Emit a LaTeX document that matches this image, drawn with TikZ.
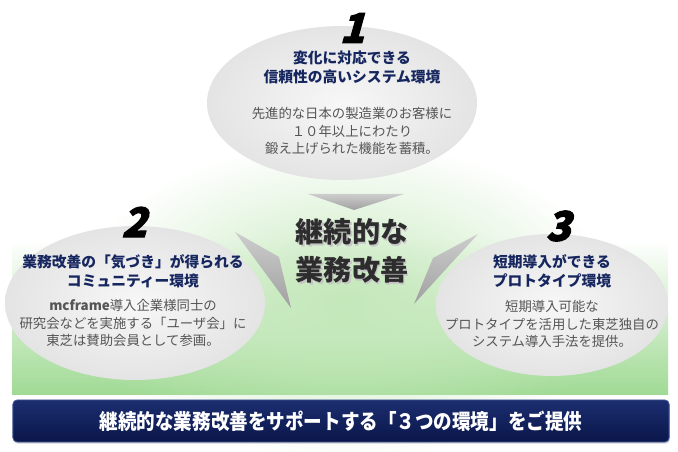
\documentclass[tikz,border=0pt]{standalone}
\usepackage{fontspec}
\setmainfont{Noto Sans CJK JP}
\newfontfamily\numfont{Noto Sans CJK JP}[FakeSlant=0.28, FakeBold=2.5]
\newfontfamily\barfont{Noto Sans CJK JP}[FakeStretch=0.88]
\usetikzlibrary{fadings,shadows}

\definecolor{titleblue}{RGB}{22,38,95}
\definecolor{bodygray}{RGB}{85,85,85}
\definecolor{coregray}{RGB}{45,45,45}
\definecolor{gbot}{RGB}{160,218,148}
\definecolor{gmid}{RGB}{220,241,213}
\definecolor{glow}{RGB}{196,232,186}
\definecolor{ellin}{RGB}{247,247,247}
\definecolor{ellout}{RGB}{228,228,228}
\definecolor{arrowlt}{RGB}{205,205,205}
\definecolor{arrowdk}{RGB}{160,160,160}
\definecolor{bartop}{RGB}{28,46,112}
\definecolor{barbot}{RGB}{10,22,74}
\definecolor{barline}{RGB}{62,86,150}

\tikzfading[name=glowfade, inner color=transparent!0, outer color=transparent!100]

\tikzset{
  envtitle/.style={text=titleblue, align=center,
    font=\bfseries\fontsize{10.5}{13.5}\selectfont},
  envbody/.style={text=bodygray, align=center,
    font=\fontsize{9.5}{12.5}\selectfont},
  envnum/.style={font=\numfont\bfseries\fontsize{29}{29}\selectfont},
  envblob/.style={inner color=ellin, outer color=ellout},
  pointer/.style={top color=arrowlt, bottom color=arrowdk},
  coretext/.style={align=center, font=\bfseries\fontsize{20}{27}\selectfont},
  barbox/.style={draw=barline, line width=0.6pt, rounded corners=3pt,
    top color=bartop, bottom color=barbot, text=white,
    minimum width=16.4cm, minimum height=1.05cm,
    drop shadow={opacity=0.35, shadow xshift=0.6pt, shadow yshift=-1.2pt},
    font=\barfont\bfseries\fontsize{15}{15}\selectfont},
}

\begin{document}
\begin{tikzpicture}[x=0.025cm, y=-0.025cm]
  \useasboundingbox (0,0) rectangle (678,452);

  % green ground
  \shade[top color=white, middle color=gmid, bottom color=gbot]
    (12,240) rectangle (668,395);
  \fill[glow, path fading=glowfade] (345,300) ellipse [x radius=270, y radius=160];

  % three bubbles
  \shade[envblob] (342,103) ellipse [x radius=135, y radius=77];
  \shade[envblob] (135,303) ellipse [x radius=130, y radius=77];
  \shade[envblob] (552,305) ellipse [x radius=116, y radius=71];

  % pointers to the middle
  \shade[pointer] (308,194) -- (404,194) -- (354,210) -- cycle;
  \shade[pointer] (235,232) -- (279,257) -- (291,308) -- cycle;
  \shade[pointer] (478,234) -- (433,258) -- (414,304) -- cycle;

  % middle
  \node[coretext, text=gray!45] (coreshade) at (353.5,252.5) {継続的な\\業務改善};
  \node[coretext, text=coregray] (core) at (352,251) {継続的な\\業務改善};

  % 1
  \node[envnum] (num1) at (352,28) {1};
  \node[envtitle] (title1) at (352,67) {変化に対応できる\\信頼性の高いシステム環境};
  \node[envbody] (body1) at (352,131) {先進的な日本の製造業のお客様に\\１０年以上にわたり\\鍛え上げられた機能を蓄積。};

  % 2
  \node[envnum] (num2) at (134,222) {2};
  \node[envtitle] (title2) at (133,271) {業務改善の「気づき」が得られる\\コミュニティー環境};
  \node[envbody] (body2) at (133,323) {\textbf{mcframe}導入企業様同士の\\研究会などを実施する「ユーザ会」に\\東芝は賛助会員として参画。};

  % 3
  \node[envnum] (num3) at (558,226) {3};
  \node[envtitle] (title3) at (552,271) {短期導入ができる\\プロトタイプ環境};
  \node[envbody] (body3) at (552,324) {短期導入可能な\\プロトタイプを活用した東芝独自の\\システム導入手法を提供。};

  % bar
  \node[barbox] (bar) at (341,421) {継続的な業務改善をサポートする「３つの環境」をご提供};
\end{tikzpicture}
\end{document}
